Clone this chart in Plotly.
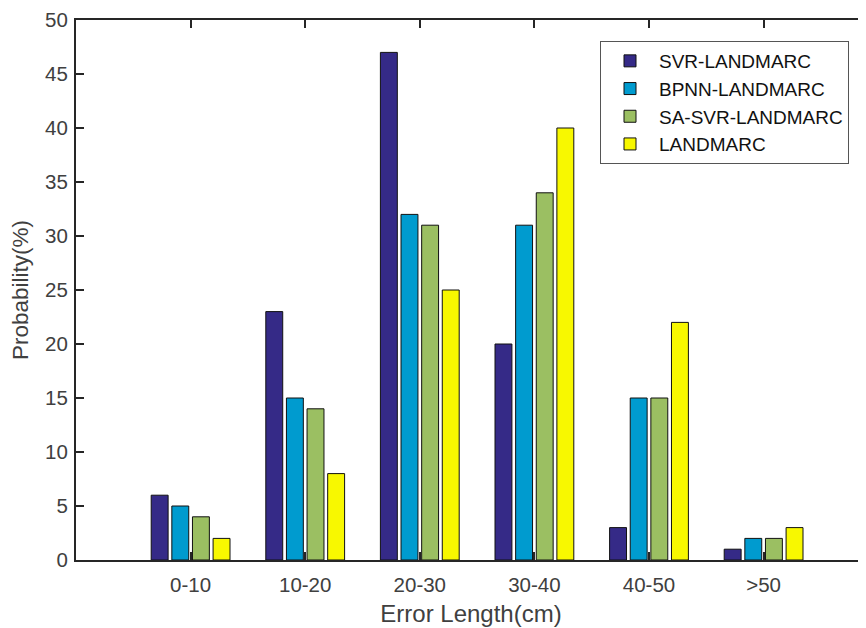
import plotly.graph_objects as go

categories = ["0-10", "10-20", "20-30", "30-40", "40-50", ">50"]
series_names = ["SVR-LANDMARC", "BPNN-LANDMARC", "SA-SVR-LANDMARC", "LANDMARC"]
svr = [6, 23, 47, 20, 3, 1]
bpnn = [5, 15, 32, 31, 15, 2]
sa_svr = [4, 14, 31, 34, 15, 2]
landmarc = [2, 8, 25, 40, 22, 3]
colors = ["#352A87", "#009BCF", "#9BBF62", "#F8F800"]

series = [svr, bpnn, sa_svr, landmarc]
xidx = list(range(len(categories)))

fig = go.Figure()
for name, vals, col in zip(series_names, series, colors):
    fig.add_trace(go.Bar(
        x=xidx, y=vals, name=name,
        marker=dict(color=col, line=dict(color="#111111", width=1)),
    ))

# page body has an 8px margin; compensate so the plot area lands at x 76..866, y 20..560
W, H = 858, 620
ml, mr, mt, mb = 68, 0, 12, 68
pw, ph = W - ml - mr, H - mt - mb
fig.update_layout(
    width=W, height=H,
    margin=dict(l=ml, r=mr, t=mt, b=mb, pad=0),
    paper_bgcolor="white", plot_bgcolor="white",
    barmode="group", bargap=0.28, bargroupgap=0.18,
    font=dict(family="Liberation Sans, Arial, sans-serif", size=20, color="#404040"),
    showlegend=True,
    legend=dict(
        x=(600 - 76) / pw, y=(560 - 41) / ph,
        xanchor="left", yanchor="top",
        bgcolor="white", bordercolor="#555555", borderwidth=1,
        font=dict(size=19, color="#111111"),
        tracegroupgap=0, itemwidth=48,
    ),
    xaxis=dict(
        tickmode="array", tickvals=xidx, ticktext=categories,
        range=[-1, -1 + pw / 114.6],
        showline=True, linecolor="#262626", linewidth=2,
        mirror="ticks", ticks="inside", ticklen=8, tickwidth=2, tickcolor="#262626",
        showgrid=False, zeroline=False, ticklabelstandoff=5,
        title=dict(text="Error Length(cm)", font=dict(size=24, color="#404040"), standoff=11),
        tickfont=dict(size=20.5),
    ),
    yaxis=dict(
        range=[0, 50], dtick=5, tick0=0,
        showline=True, linecolor="#262626", linewidth=2, mirror=False,
        ticks="inside", ticklen=8, tickwidth=1.5, tickcolor="#262626",
        showgrid=False, zeroline=False, ticklabelstandoff=2,
        title=dict(text="Probability(%)", font=dict(size=22.5, color="#404040"), standoff=10),
        tickfont=dict(size=20.5),
    ),
)

fig.write_html("out.html")
